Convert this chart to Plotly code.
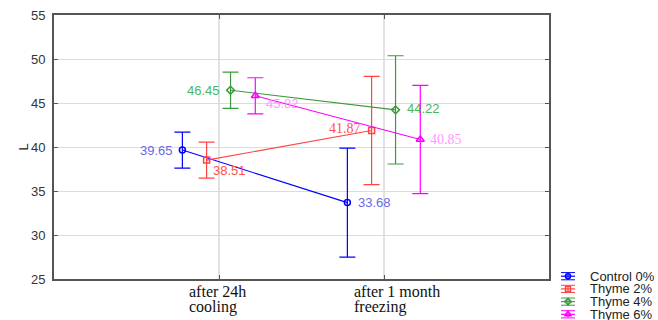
import plotly.graph_objects as go

# Storage condition categories (two-line tick labels)
tick_line1 = ["after 24h", "after 1 month"]
tick_line2 = ["cooling", "freezing"]
cat_pos = [1, 2]

# Series: treatment groups, L* means and error half-widths
series_names = ["Control 0%", "Thyme 2%", "Thyme 4%", "Thyme 6%"]
control_mean = [39.65, 33.68]
thyme2_mean = [38.51, 41.87]
thyme4_mean = [46.45, 44.22]
thyme6_mean = [45.82, 40.85]
control_err = [2.05, 6.2]
thyme2_err = [2.05, 6.15]
thyme4_err = [2.05, 6.15]
thyme6_err = [2.05, 6.15]

y_ticks = [25, 30, 35, 40, 45, 50, 55]

means = [control_mean, thyme2_mean, thyme4_mean, thyme6_mean]
errs = [control_err, thyme2_err, thyme4_err, thyme6_err]

# styling per series
line_colors = ["#0000ff", "#ff4444", "#3c9a3c", "#ff00ff"]
label_colors = ["#6a6ae6", "#ff5050", "#45b866", "#ff99ff"]
symbols = ["circle-open", "square-open", "diamond-open", "triangle-up-open"]
marker_sizes = [6, 6, 6, 7]
offsets = [-0.222, -0.075, 0.07, 0.22]
# value label placement: (anchor, xshift, yshift) per point
label_place = [
    [("right", -7, 0), ("left", 9, 0)],
    [("left", 4, -10), ("right", -9, 2)],
    [("right", -9, 0), ("left", 9, 1)],
    [("left", 9, -8), ("left", 8, 0)],
]
label_fonts = [
    ["Liberation Sans", "Liberation Sans"],
    ["Liberation Sans", "Liberation Serif"],
    ["Liberation Sans", "Liberation Sans"],
    ["Liberation Sans", "Liberation Serif"],
]

W, H = 658, 320
plot_l, plot_r, plot_t, plot_b = 54, 549, 15, 279
x_dom = [plot_l / W, plot_r / W]
y_dom = [(H - plot_b) / H, (H - plot_t) / H]

fig = go.Figure()

for i, name in enumerate(series_names):
    xs = [c + offsets[i] for c in cat_pos]
    fig.add_trace(go.Scatter(
        x=xs, y=means[i], name=name, mode="lines+markers",
        line=dict(color=line_colors[i], width=1.1),
        marker=dict(symbol=symbols[i], size=marker_sizes[i], color=line_colors[i],
                    line=dict(width=1.5, color=line_colors[i])),
        error_y=dict(type="data", array=errs[i], visible=True,
                     color=line_colors[i], thickness=1.2, width=8),
        showlegend=False, cliponaxis=False,
        xaxis="x", yaxis="y",
    ))
    for j, (x, v) in enumerate(zip(xs, means[i])):
        anchor, dx, dy = label_place[i][j]
        fam = label_fonts[i][j]
        fig.add_annotation(
            x=x, y=v, xref="x", yref="y", text=f"{v:.2f}", showarrow=False,
            xanchor=anchor, yanchor="middle", xshift=dx, yshift=dy,
            font=dict(family=fam, size=14 if "Serif" in fam else 13,
                      color=label_colors[i]),
        )

# legend drawn in its own small axes: one row per series
leg_x0, leg_x1 = 555, 658
leg_y0, leg_y1 = 260, 320
row_px0, row_step = 276.2, 12.7
r_top = (leg_y0 - row_px0) / row_step
r_bot = (leg_y1 - row_px0) / row_step

for i, name in enumerate(series_names):
    fig.add_trace(go.Scatter(
        x=[6, 20], y=[i, i], mode="lines",
        line=dict(color=line_colors[i], width=1.2),
        showlegend=False, hoverinfo="skip", xaxis="x2", yaxis="y2",
    ))
    fig.add_trace(go.Scatter(
        x=[13], y=[i], mode="markers",
        marker=dict(symbol=symbols[i], size=marker_sizes[i] - 1, color=line_colors[i],
                    line=dict(width=1.5, color=line_colors[i])),
        error_y=dict(type="constant", value=3.6 / row_step, visible=True,
                     color=line_colors[i], thickness=1, width=7),
        showlegend=False, hoverinfo="skip", xaxis="x2", yaxis="y2",
    ))
    fig.add_annotation(
        x=33, y=i, xref="x2", yref="y2", text=name, showarrow=False,
        xanchor="left", yanchor="middle",
        font=dict(family="Liberation Sans", size=13, color="#222"),
    )

# category labels, two left-aligned lines under each category
for c, l1, l2 in zip(cat_pos, tick_line1, tick_line2):
    for line_txt, yshift in ((l1, -12), (l2, -28)):
        fig.add_annotation(
            x=c, y=(H - plot_b) / H, xref="x", yref="paper",
            yanchor="middle", xanchor="left",
            text=line_txt, showarrow=False, xshift=-32, yshift=yshift,
            font=dict(family="Liberation Serif", size=16, color="#111"),
        )

# y-axis title
fig.add_annotation(
    x=13 / W, y=(H - 147) / H, xref="paper", yref="paper", text="L",
    textangle=-90, showarrow=False,
    font=dict(family="Liberation Sans", size=13, color="#222"),
)

fig.update_layout(
    width=W, height=H,
    margin=dict(l=0, r=0, t=0, b=0),
    paper_bgcolor="white", plot_bgcolor="white",
    showlegend=False,
    xaxis=dict(
        domain=x_dom, range=[0, 3], tickvals=cat_pos, showticklabels=False,
        showgrid=True, gridcolor="#e2e2e2", gridwidth=2, zeroline=False,
        showline=True, linecolor="#555", linewidth=2, mirror="ticks",
        ticks="inside", ticklen=4, tickcolor="#555", automargin=False,
    ),
    yaxis=dict(
        domain=y_dom, range=[25, 55], tickvals=y_ticks,
        showgrid=True, gridcolor="#dcdcdc", gridwidth=1, zeroline=False,
        showline=True, linecolor="#555", linewidth=2, mirror="ticks",
        ticks="inside", ticklen=4, tickcolor="#555",
        tickfont=dict(family="Liberation Sans", size=13, color="#333"),
        ticklabelstandoff=4, automargin=False,
    ),
    xaxis2=dict(domain=[leg_x0 / W, 1], range=[0, leg_x1 - leg_x0], visible=False,
                fixedrange=True),
    yaxis2=dict(domain=[0, (H - leg_y0) / H], range=[r_bot, r_top], visible=False,
                fixedrange=True),
)

fig.write_html("out.html")
